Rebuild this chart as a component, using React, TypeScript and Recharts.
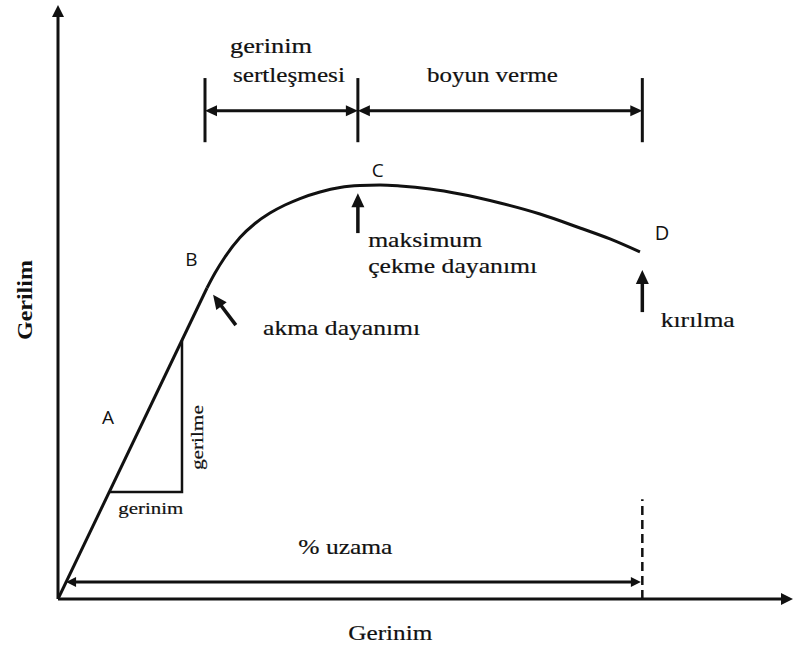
import React from 'react';
import { ComposedChart, Line, XAxis, YAxis, ReferenceLine, ReferenceDot } from 'recharts';

// strain / stress readings (arbitrary units, 0..100 on both axes)
const elasticStrain = [0, 20.27];
const elasticStress = [0, 52.36];

const plasticStrain = [20.27, 21.36, 22.72, 24.76, 26.8, 28.84, 30.88, 32.93, 35.65, 38.37, 41.09, 43.81, 46.53, 50.61, 54.69, 60.14, 65.58, 71.02, 75.1, 79.18];
const plasticStress = [52.36, 54.88, 57.58, 60.86, 63.22, 64.98, 66.33, 67.42, 68.52, 69.28, 69.61, 69.7, 69.53, 69.02, 68.18, 66.67, 64.81, 62.46, 60.61, 58.42];

// modulus triangle (gerinim / gerilme)
const triStrain = [6.97, 16.87, 16.87];
const triStress = [18, 18, 43.58];

const yieldStrain = 20.0;
const ultimateStrain = 40.8;
const fractureStrain = 79.5;

const toPoints = (xs: number[], ys: number[]) => xs.map((x, i) => ({ x, y: ys[i] }));

const elastic = toPoints(elasticStrain, elasticStress);
const plastic = toPoints(plasticStrain, plasticStress);
const triangle = toPoints(triStrain, triStress);

const INK = '#111';
const SERIF = '"Liberation Serif", "Times New Roman", serif';
const SANS = '"Open Sans", "Noto Sans", sans-serif';

type Heads = 'none' | 'end' | 'both';

// draws a line with filled arrow heads
const arrowShape = (heads: Heads, width: number, hl: number, hw: number) => (p: any) => {
  const { x1, y1, x2, y2 } = p;
  const len = Math.hypot(x2 - x1, y2 - y1) || 1;
  const ux = (x2 - x1) / len;
  const uy = (y2 - y1) / len;
  const head = (tx: number, ty: number, dx: number, dy: number) => {
    const bx = tx - dx * hl;
    const by = ty - dy * hl;
    return `${tx},${ty} ${bx - dy * hw},${by + dx * hw} ${bx + dy * hw},${by - dx * hw}`;
  };
  const sx = heads === 'both' ? x1 + ux * hl * 0.7 : x1;
  const sy = heads === 'both' ? y1 + uy * hl * 0.7 : y1;
  const ex = heads !== 'none' ? x2 - ux * hl * 0.7 : x2;
  const ey = heads !== 'none' ? y2 - uy * hl * 0.7 : y2;
  return (
    <g>
      <line x1={sx} y1={sy} x2={ex} y2={ey} stroke={INK} strokeWidth={width} strokeDasharray={p.strokeDasharray} />
      {heads !== 'none' && <polygon points={head(x2, y2, ux, uy)} fill={INK} />}
      {heads === 'both' && <polygon points={head(x1, y1, -ux, -uy)} fill={INK} />}
    </g>
  );
};

const segments: { a: [number, number]; b: [number, number]; heads: Heads; w: number; hl: number; hw: number; dash?: string }[] = [
  // axes
  { a: [0, 0], b: [0, 100], heads: 'end', w: 3, hl: 12, hw: 6 },
  { a: [0, 0], b: [100, 0], heads: 'end', w: 3, hl: 12, hw: 6 },
  // top brackets
  { a: [yieldStrain, 76.9], b: [yieldStrain, 87.7], heads: 'none', w: 3, hl: 0, hw: 0 },
  { a: [ultimateStrain, 76.9], b: [ultimateStrain, 87.7], heads: 'none', w: 3, hl: 0, hw: 0 },
  { a: [fractureStrain, 76.9], b: [fractureStrain, 87.7], heads: 'none', w: 3, hl: 0, hw: 0 },
  { a: [yieldStrain, 82.2], b: [ultimateStrain, 82.2], heads: 'both', w: 3, hl: 12, hw: 5.5 },
  { a: [ultimateStrain, 82.2], b: [fractureStrain, 82.2], heads: 'both', w: 3, hl: 12, hw: 5.5 },
  // pointers
  { a: [24.2, 46.1], b: [21.1, 51.2], heads: 'end', w: 3.5, hl: 14, hw: 6.5 },
  { a: [ultimateStrain, 61.6], b: [ultimateStrain, 68.3], heads: 'end', w: 3.5, hl: 14, hw: 6.5 },
  { a: [fractureStrain, 48.3], b: [fractureStrain, 55.4], heads: 'end', w: 3.5, hl: 14, hw: 6.5 },
  // % uzama
  { a: [1.1, 2.86], b: [79.3, 2.86], heads: 'both', w: 3, hl: 10, hw: 5 },
  { a: [fractureStrain, 0], b: [fractureStrain, 16.8], heads: 'none', w: 2.5, hl: 0, hw: 0, dash: '9 5' },
];

const notes: { text: string; x: number; y: number; size: number; len?: number; font?: string; bold?: boolean; rot?: boolean }[] = [
  { text: 'gerinim', x: 23.4, y: 91.9, size: 21, len: 82 },
  { text: 'sertleşmesi', x: 23.8, y: 87.0, size: 21, len: 112 },
  { text: 'boyun verme', x: 50.2, y: 87.0, size: 21, len: 131 },
  { text: 'maksimum', x: 42.2, y: 59.3, size: 21, len: 114 },
  { text: 'çekme dayanımı', x: 42.2, y: 54.9, size: 21, len: 169 },
  { text: 'akma dayanımı', x: 27.9, y: 44.4, size: 22, len: 157 },
  { text: 'kırılma', x: 82.0, y: 45.8, size: 22, len: 74 },
  { text: '% uzama', x: 32.7, y: 7.6, size: 22, len: 94 },
  { text: 'Gerinim', x: 39.5, y: -6.9, size: 22, len: 84 },
  { text: 'gerinim', x: 8.2, y: 14.3, size: 17, len: 65 },
  { text: 'gerilme', x: 19.7, y: 21.7, size: 16, len: 65, rot: true },
  { text: 'Gerilim', x: -3.5, y: 43.6, size: 21, len: 80, rot: true, bold: true },
  { text: 'A', x: 6.0, y: 29.5, size: 19, font: SANS },
  { text: 'B', x: 17.3, y: 56.1, size: 19, font: SANS },
  { text: 'C', x: 42.7, y: 71.0, size: 19, font: SANS },
  { text: 'D', x: 81.2, y: 60.4, size: 20, font: SANS },
];

const noteShape = (n: (typeof notes)[number]) => (p: any) => (
  <text
    x={p.cx}
    y={p.cy}
    fontFamily={n.font || SERIF}
    fontSize={n.size}
    fontWeight={n.bold ? 'bold' : 'normal'}
    fill={INK}
    stroke={n.font || n.bold ? 'none' : INK}
    strokeWidth={0.2}
    textLength={n.len}
    lengthAdjust={n.len ? 'spacingAndGlyphs' : undefined}
    transform={n.rot ? `rotate(-90 ${p.cx} ${p.cy})` : undefined}
  >
    {n.text}
  </text>
);

export default function App() {
  return (
    <div style={{ position: 'absolute', left: 0, top: 0, width: 795, height: 651, background: '#fff' }}>
      <ComposedChart width={795} height={651} margin={{ top: 5, right: 2, bottom: 52, left: 58 }}>
        <XAxis type="number" dataKey="x" domain={[0, 100]} hide allowDataOverflow />
        <YAxis type="number" dataKey="y" domain={[0, 100]} hide allowDataOverflow />
        <Line data={elastic} dataKey="y" type="linear" stroke={INK} strokeWidth={3} dot={false} isAnimationActive={false} />
        <Line data={plastic} dataKey="y" type="monotone" stroke={INK} strokeWidth={3} dot={false} isAnimationActive={false} />
        <Line data={triangle} dataKey="y" type="linear" stroke={INK} strokeWidth={2.5} dot={false} isAnimationActive={false} />
        {segments.map((s, i) => (
          <ReferenceLine
            key={'s' + i}
            segment={[{ x: s.a[0], y: s.a[1] }, { x: s.b[0], y: s.b[1] }]}
            ifOverflow="visible"
            strokeDasharray={s.dash}
            shape={arrowShape(s.heads, s.w, s.hl, s.hw)}
          />
        ))}
        {notes.map((n, i) => (
          <ReferenceDot key={'n' + i} x={n.x} y={n.y} r={0} ifOverflow="visible" shape={noteShape(n)} />
        ))}
      </ComposedChart>
    </div>
  );
}
